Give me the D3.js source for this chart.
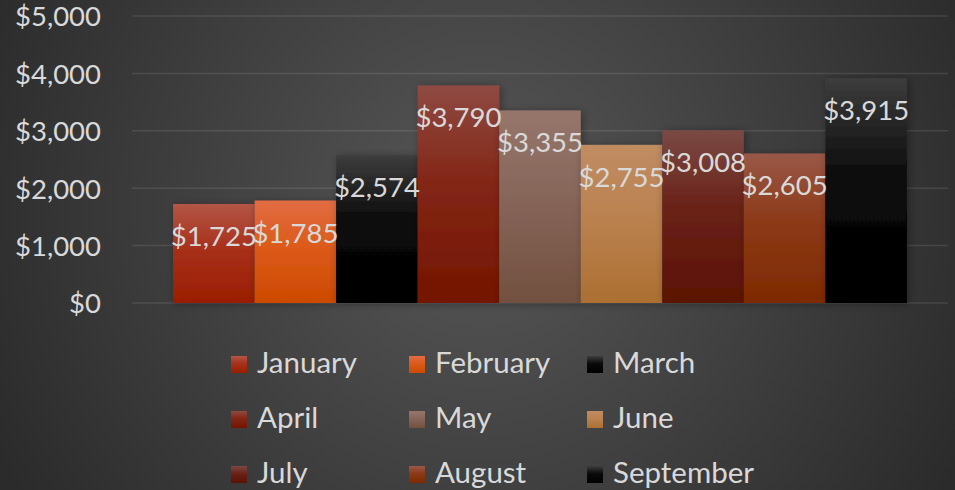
<!DOCTYPE html>
<html>
<head>
<meta charset="utf-8">
<script src="https://cdn.jsdelivr.net/npm/d3@7"></script>
<style>
  html, body { margin: 0; padding: 0; background: #2b2b2b; }
  svg { display: block; }
</style>
</head>
<body>
<div id="viz"></div>
<script>
// chart data
var months = ["January", "February", "March", "April", "May", "June", "July", "August", "September"];
var sales = [1725, 1785, 2574, 3790, 3355, 2755, 3008, 2605, 3915];
var yTicks = [0, 1000, 2000, 3000, 4000, 5000];

// gradient colours per month: top, middle, bottom
var topColors = ["#b35646", "#e26c43", "#3d3d3d", "#8f4a42", "#96766b", "#c08c62", "#7a4a44", "#995848", "#3d3d3d"];
var midColors = ["#a8301a", "#dc5a1a", "#0a0a0a", "#832616", "#87665a", "#bb8250", "#6a2218", "#8c3a18", "#0a0a0a"];
var botColors = ["#9a1e00", "#cc4a00", "#000000", "#741500", "#72503f", "#ac6f32", "#5b1203", "#7d2a00", "#000000"];

var W = 955, H = 490;
var font = "Lato, 'Open Sans', sans-serif";
var textColor = "#d9d9d9";

var svg = d3.select("#viz").append("svg")
	.attr("width", W)
	.attr("height", H);

var defs = svg.append("defs");

// background radial gradient
var bg = defs.append("radialGradient")
	.attr("id", "bg")
	.attr("gradientUnits", "userSpaceOnUse")
	.attr("cx", 480).attr("cy", 210).attr("r", 540);
bg.append("stop").attr("offset", 0).attr("stop-color", "#575757");
bg.append("stop").attr("offset", 1).attr("stop-color", "#2b2b2b");

svg.append("rect")
	.attr("width", W).attr("height", H)
	.attr("fill", "url(#bg)");

months.forEach(function (m, i) {
	var g = defs.append("linearGradient")
		.attr("id", "grad" + i)
		.attr("x1", 0).attr("y1", 0).attr("x2", 0).attr("y2", 1);
	g.append("stop").attr("offset", 0).attr("stop-color", topColors[i]);
	g.append("stop").attr("offset", 0.45).attr("stop-color", midColors[i]);
	g.append("stop").attr("offset", 1).attr("stop-color", botColors[i]);
});

var shadow = defs.append("filter")
	.attr("id", "shadow")
	.attr("x", "-20%").attr("y", "-20%")
	.attr("width", "140%").attr("height", "140%");
shadow.append("feDropShadow")
	.attr("dx", 2).attr("dy", 1)
	.attr("stdDeviation", 4)
	.attr("flood-color", "#000")
	.attr("flood-opacity", 0.35);

// scales
var plotLeft = 132, plotRight = 948;
var y = d3.scaleLinear().domain([0, 5000]).range([303, 16]);

var x0 = d3.scaleBand()
	.domain(["Total"])
	.range([plotLeft, plotRight])
	.paddingInner(0)
	.paddingOuter(0.056);

var x1 = d3.scaleBand()
	.domain(months)
	.range([x0("Total"), x0("Total") + x0.bandwidth()])
	.padding(0);

// gridlines
svg.append("g")
	.selectAll("line")
	.data(yTicks)
	.join("line")
	.attr("x1", plotLeft)
	.attr("x2", plotRight)
	.attr("y1", (d) => y(d))
	.attr("y2", (d) => y(d))
	.attr("stroke", "#ffffff")
	.attr("stroke-opacity", 0.1)
	.attr("stroke-width", 1.5);

// y axis labels
var fmt = d3.format("$,");
var yAxis = svg.append("g")
	.attr("transform", "translate(101,0)")
	.call(d3.axisLeft(y).tickValues(yTicks).tickFormat(fmt).tickSize(0).tickPadding(0));
yAxis.select(".domain").remove();
yAxis.selectAll("text")
	.attr("fill", textColor)
	.attr("font-family", font)
	.attr("font-size", 27.5)
	.attr("dy", "0.36em");

// bars
svg.append("g")
	.selectAll("rect")
	.data(months)
	.join("rect")
	.attr("x", (d) => x1(d))
	.attr("y", (d, i) => y(sales[i]))
	.attr("width", x1.bandwidth())
	.attr("height", (d, i) => y(0) - y(sales[i]))
	.attr("fill", (d, i) => "url(#grad" + i + ")")
	.attr("filter", "url(#shadow)");

// data labels
svg.append("g")
	.selectAll("text")
	.data(months)
	.join("text")
	.attr("x", (d) => x1(d) + x1.bandwidth() / 2)
	.attr("y", (d, i) => y(sales[i]) + 42)
	.attr("text-anchor", "middle")
	.attr("fill", textColor)
	.attr("font-family", font)
	.attr("font-size", 27.5)
	.text((d, i) => fmt(sales[i]));

// legend, 3 columns
var legend = svg.append("g")
	.selectAll("g")
	.data(months)
	.join("g")
	.attr("transform", (d, i) => "translate(" + (231 + (i % 3) * 178) + "," + (356 + Math.floor(i / 3) * 55) + ")");

legend.append("rect")
	.attr("width", 16)
	.attr("height", 17)
	.attr("fill", (d, i) => "url(#grad" + i + ")");

legend.append("text")
	.attr("x", 26)
	.attr("y", 17)
	.attr("fill", textColor)
	.attr("font-family", font)
	.attr("font-size", 29.5)
	.text((d) => d);
</script>
</body>
</html>
